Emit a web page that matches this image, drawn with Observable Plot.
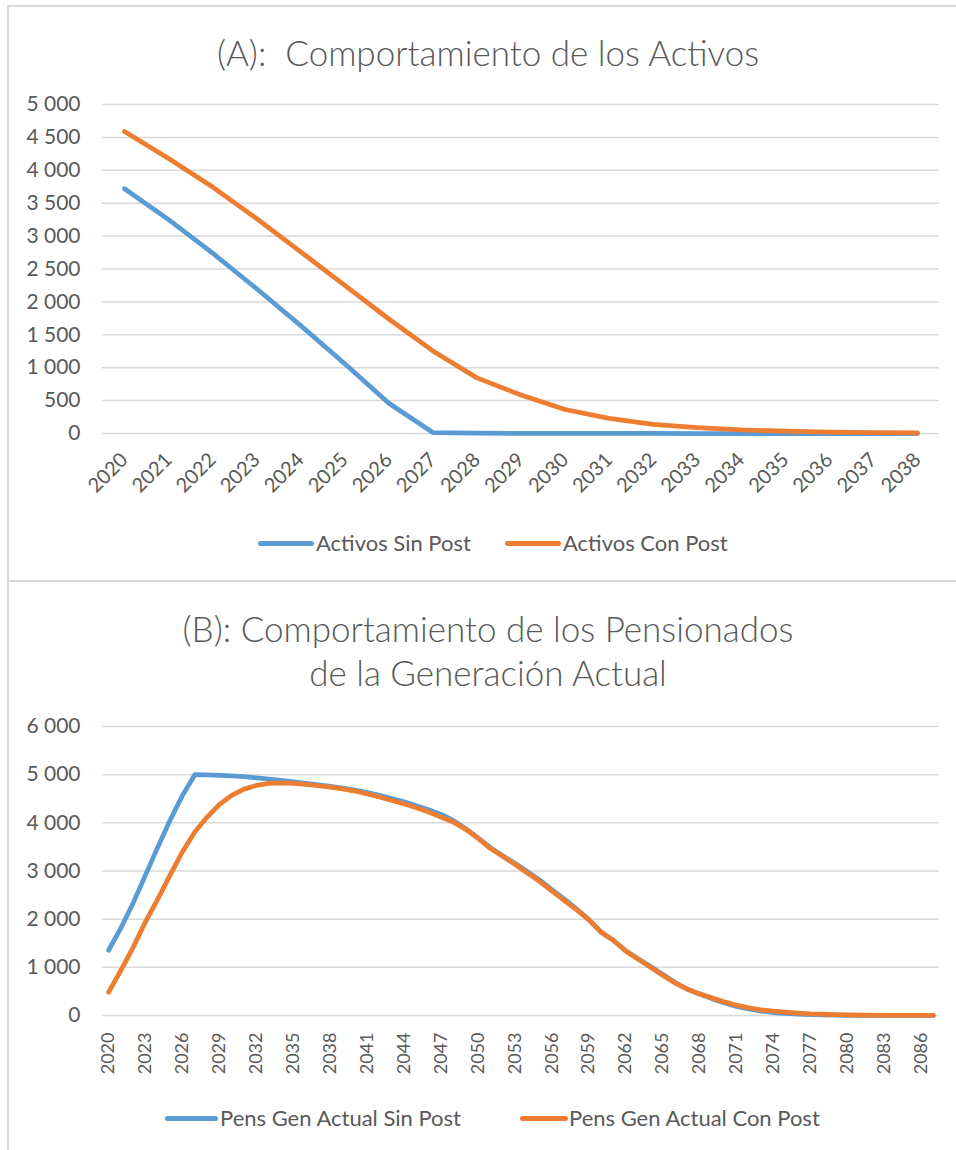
<!DOCTYPE html>
<html>
<head>
<meta charset="utf-8">
<script src="https://cdn.jsdelivr.net/npm/d3@7"></script>
<script src="https://cdn.jsdelivr.net/npm/@observablehq/plot@0.6"></script>
<style>
  body { margin: 0; background: #fff; font-family: Lato, "Open Sans", sans-serif; }
  #page { position: relative; width: 956px; height: 1150px; overflow: hidden; background: #fff; }
  .box { position: absolute; border: 2px solid #d9d9d9; box-sizing: border-box; }
  .title { position: absolute; left: 488px; transform: translateX(-50%); white-space: pre;
           color: #595959; font-size: 35px; text-align: center; line-height: 44px; font-weight: 300; }
  .chart { position: absolute; left: 0; }
  .swatch { position: absolute; height: 5px; border-radius: 3px; }
  .ltext { position: absolute; color: #595959; font-size: 22px; white-space: nowrap; line-height: 24px; }
</style>
</head>
<body>
<div id="page">
  <div class="box" style="left:7px; top:5px; width:1000px; height:577px;"></div>
  <div class="box" style="left:7px; top:580px; width:1000px; height:700px;"></div>
  <div class="title" id="titleA" style="top:30px;"></div>
  <div class="title" id="titleB" style="top:606px;"></div>
  <div class="chart" id="chartA" style="top:90px;"></div>
  <div class="chart" id="chartB" style="top:712px;"></div>
  <div id="legendA"></div>
  <div id="legendB"></div>
</div>
<script>
// ---------- Data ----------
const titleA = "(A):  Comportamiento de los Activos";
const titleBLines = ["(B): Comportamiento de los Pensionados", "de la Generación Actual"];

const seriesNamesA = ["Activos Sin Post", "Activos Con Post"];
const seriesNamesB = ["Pens Gen Actual Sin Post", "Pens Gen Actual Con Post"];
const seriesColors = ["#5b9bd5", "#ed7d31"];

const yearsA = [2020, 2021, 2022, 2023, 2024, 2025, 2026, 2027, 2028, 2029,
                2030, 2031, 2032, 2033, 2034, 2035, 2036, 2037, 2038];
const activosSinPost = [3720, 3250, 2740, 2200, 1640, 1060, 460, 15, 5, 3,
                        2, 1, 1, 0, 0, 0, 0, 0, 0];
const activosConPost = [4590, 4180, 3745, 3265, 2760, 2250, 1740, 1255, 845, 585,
                        365, 230, 140, 90, 55, 35, 22, 14, 8];
const yTicksA = [0, 500, 1000, 1500, 2000, 2500, 3000, 3500, 4000, 4500, 5000];

const yearsB = [2020, 2021, 2022, 2023, 2024, 2025, 2026, 2027, 2028, 2029,
                2030, 2031, 2032, 2033, 2034, 2035, 2036, 2037, 2038, 2039,
                2040, 2041, 2042, 2043, 2044, 2045, 2046, 2047, 2048, 2049,
                2050, 2051, 2052, 2053, 2054, 2055, 2056, 2057, 2058, 2059,
                2060, 2061, 2062, 2063, 2064, 2065, 2066, 2067, 2068, 2069,
                2070, 2071, 2072, 2073, 2074, 2075, 2076, 2077, 2078, 2079,
                2080, 2081, 2082, 2083, 2084, 2085, 2086, 2087];
const pensSinPost = [1355, 1820, 2340, 2920, 3500, 4060, 4570, 5000, 4995, 4985,
                     4975, 4960, 4935, 4910, 4880, 4850, 4820, 4790, 4755, 4720,
                     4680, 4630, 4570, 4505, 4435, 4355, 4270, 4175, 4050, 3880,
                     3690, 3490, 3320, 3160, 2990, 2815, 2615, 2420, 2215, 1995,
                     1730, 1560, 1345, 1180, 1020, 855, 690, 550, 445, 350,
                     265, 190, 135, 92, 62, 42, 28, 18, 12, 8,
                     5, 3, 2, 1, 1, 0, 0, 0];
const pensConPost = [484, 940, 1420, 1950, 2420, 2920, 3400, 3810, 4120, 4380,
                     4570, 4700, 4776, 4818, 4832, 4818, 4797, 4770, 4742, 4705,
                     4660, 4600, 4535, 4465, 4396, 4313, 4223, 4120, 4016, 3870,
                     3680, 3470, 3304, 3138, 2965, 2786, 2585, 2392, 2198, 1991,
                     1735, 1562, 1341, 1175, 1009, 836, 677, 546, 449, 366,
                     283, 214, 159, 118, 90, 69, 48, 35, 28, 20,
                     14, 10, 7, 5, 3, 2, 1, 1];
const yTicksB = [0, 1000, 2000, 3000, 4000, 5000, 6000];
const xTicksB = [2020, 2023, 2026, 2029, 2032, 2035, 2038, 2041, 2044, 2047, 2050,
                 2053, 2056, 2059, 2062, 2065, 2068, 2071, 2074, 2077, 2080, 2083, 2086];

// ---------- Helpers ----------
const fmtThousands = d => d3.format(",")(d).replace(/,/g, "\u00a0");
const tableFrom = (years, names, arrays) =>
  names.flatMap((name, k) => years.map((year, i) => ({year, value: arrays[k][i], series: name})));

const tableA = tableFrom(yearsA, seriesNamesA, [activosSinPost, activosConPost]);
const tableB = tableFrom(yearsB, seriesNamesB, [pensSinPost, pensConPost]);

function makeChart({table, years, names, yMax, yTicks, xTicks, rotate, xFont, xPad, height, marginBottom}) {
  return Plot.plot({
    width: 956,
    height,
    marginLeft: 102,
    marginRight: 17,
    marginTop: 14,
    marginBottom,
    style: {fontFamily: "Lato, 'Open Sans', sans-serif", background: "transparent", overflow: "visible"},
    x: {type: "point", domain: years, padding: 0.5, round: false, label: null},
    y: {domain: [0, yMax], label: null},
    marks: [
      Plot.ruleY(yTicks, {stroke: "#d9d9d9", strokeWidth: 1.5}),
      Plot.axisY({ticks: yTicks, tickSize: 0, tickPadding: 22, fontSize: 21, color: "#595959",
                  tickFormat: fmtThousands, label: null}),
      Plot.axisX({ticks: xTicks, tickSize: 0, tickPadding: xPad, tickRotate: rotate, fontSize: xFont,
                  color: "#595959", tickFormat: d => String(d), label: null}),
      ...names.map((name, k) =>
        Plot.line(table.filter(d => d.series === name), {
          x: "year", y: "value", stroke: seriesColors[k], strokeWidth: 4.75,
          strokeLinecap: "round", strokeLinejoin: "round"
        }))
    ]
  });
}

document.getElementById("titleA").textContent = titleA;
document.getElementById("titleB").textContent = titleBLines.join("\n");

document.getElementById("chartA").appendChild(makeChart({
  table: tableA, years: yearsA, names: seriesNamesA, yMax: 5000, yTicks: yTicksA,
  xTicks: yearsA, rotate: -45, xFont: 20, xPad: 23, height: 403, marginBottom: 60
}));
document.getElementById("chartB").appendChild(makeChart({
  table: tableB, years: yearsB, names: seriesNamesB, yMax: 6000, yTicks: yTicksB,
  xTicks: xTicksB, rotate: -90, xFont: 18, xPad: 17, height: 363, marginBottom: 60
}));

function makeLegend(id, names, layout, y) {
  const el = document.getElementById(id);
  names.forEach((name, k) => {
    const [sx, sw, tx] = layout[k];
    const sw_ = document.createElement("div");
    sw_.className = "swatch";
    sw_.style.left = sx + "px"; sw_.style.width = sw + "px"; sw_.style.top = (y - 2.5) + "px";
    sw_.style.background = seriesColors[k];
    el.appendChild(sw_);
    const t = document.createElement("div");
    t.className = "ltext";
    t.style.left = tx + "px"; t.style.top = (y - 12) + "px";
    t.textContent = name;
    el.appendChild(t);
  });
}
makeLegend("legendA", seriesNamesA, [[258, 56, 316], [505, 56, 563]], 543);
makeLegend("legendB", seriesNamesB, [[165, 53, 220], [520, 48, 569]], 1118);
</script>
</body>
</html>
